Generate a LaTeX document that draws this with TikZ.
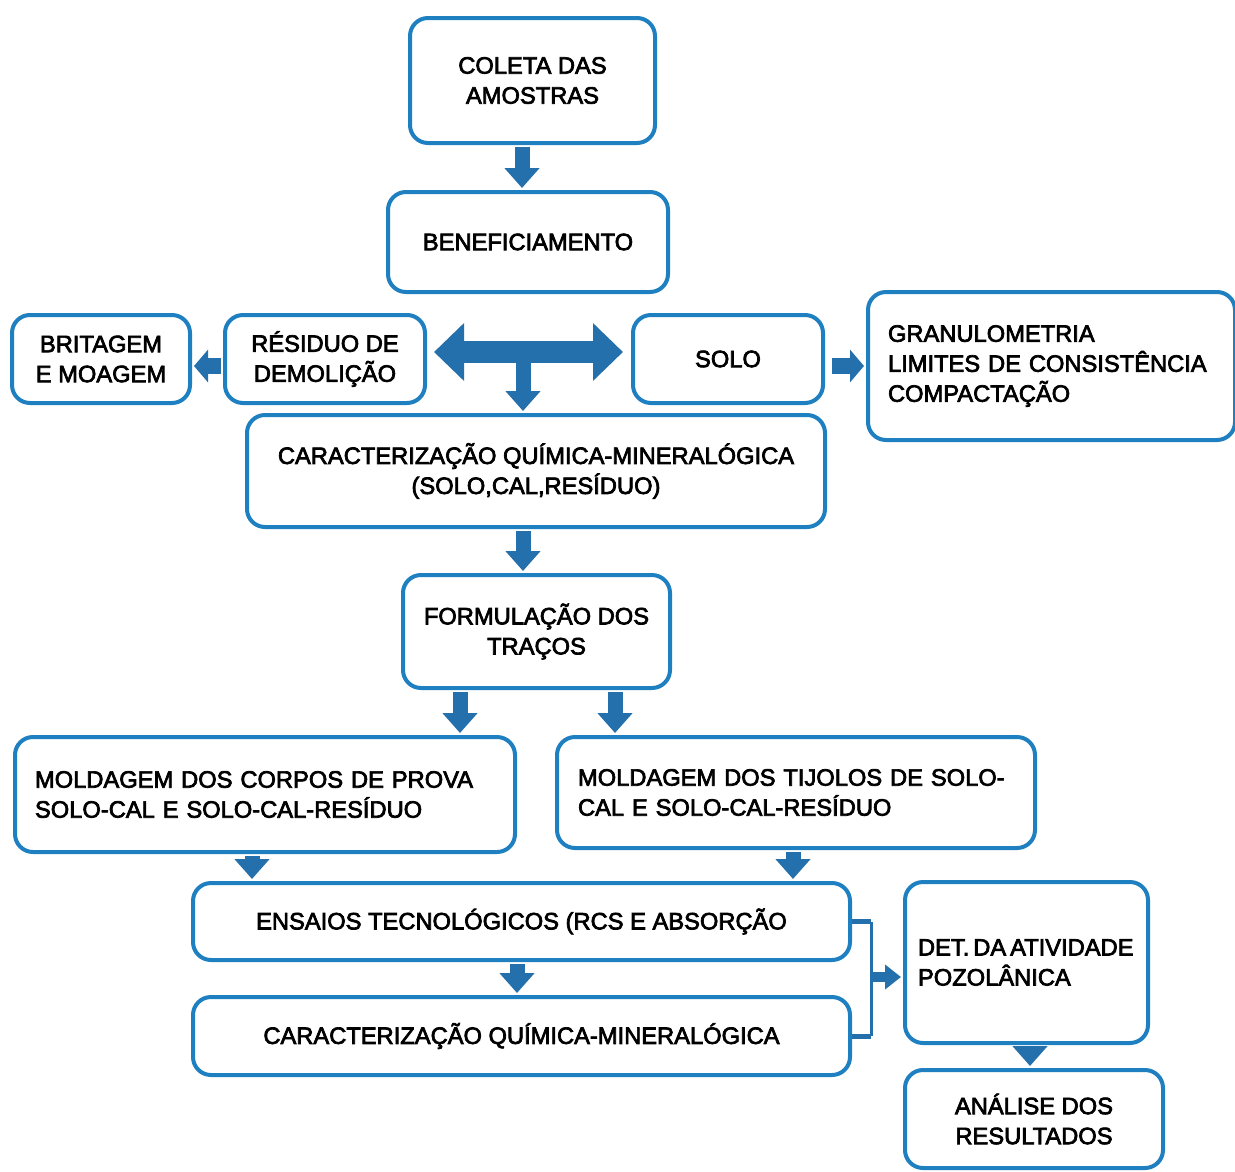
\documentclass[tikz,border=0pt]{standalone}
\usepackage{fontspec}
\setmainfont{Liberation Sans}
\newfontfamily\boxfont[FakeBold=3]{Liberation Sans}
\usetikzlibrary{arrows.meta,calc}
\definecolor{boxblue}{RGB}{30,128,192}
\definecolor{arrblue}{RGB}{35,112,172}
\begin{document}
\begin{tikzpicture}[x=1pt,y=-1pt,
  box/.style={draw=boxblue, line width=4pt, rounded corners=18pt, fill=white,
    align=center, inner sep=0pt, font=\boxfont\fontsize{23.7}{30}\selectfont},
  lbox/.style={box, align=left},
  blk/.style={draw=arrblue, line width=15pt, -{Triangle[width=34pt,length=20pt]},
    shorten <=2pt, shorten >=2pt},
  hblk/.style={draw=arrblue, line width=16pt, -{Triangle[width=32pt,length=14pt]},
    shorten <=2pt, shorten >=2pt},
  dblk/.style={draw=arrblue, line width=22pt,
    {Triangle[width=56pt,length=30pt]}-{Triangle[width=56pt,length=30pt]}},
  brk/.style={draw=arrblue, line width=#1},
  sblk/.style={draw=arrblue, line width=10pt, -{Triangle[width=24pt,length=16pt]},
    shorten >=2pt}
]
\useasboundingbox (0,0) rectangle (1235,1171);
\fill[white] (0,0) rectangle (1235,1171);

% boxes
\node[box, minimum width=245pt, minimum height=125pt] (coleta) at (532.5,80.5) {COLETA DAS\\AMOSTRAS};
\node[box, minimum width=280pt, minimum height=100pt] (benef) at (528,242) {BENEFICIAMENTO};
\node[box, minimum width=178pt, minimum height=88pt] (brit) at (101,359) {BRITAGEM\\E MOAGEM};
\node[box, minimum width=200pt, minimum height=88pt] (resid) at (325,359) {RÉSIDUO DE\\DEMOLIÇÃO};
\node[box, minimum width=190pt, minimum height=88pt] (solo) at (728,359) {SOLO};
\node[lbox, inner xsep=20pt, text width=327pt, minimum width=367pt, minimum height=148pt] (gran) at (1051.5,366)
  {GRANULOMETRIA\\LIMITES DE CONSISTÊNCIA\\COMPACTAÇÃO};
\node[box, minimum width=578pt, minimum height=112pt] (carac1) at (536,471)
  {CARACTERIZAÇÃO QUÍMICA-MINERALÓGICA\\(SOLO,CAL,RESÍDUO)};
\node[box, minimum width=267pt, minimum height=113pt] (formul) at (536.5,631.5) {FORMULAÇÃO DOS\\TRAÇOS};
\node[lbox, inner xsep=20pt, text width=460pt, minimum width=500pt, minimum height=115pt] (mold1) at (265,794.5)
  {MOLDAGEM DOS CORPOS DE PROVA\\SOLO-CAL E SOLO-CAL-RESÍDUO};
\node[lbox, inner xsep=21pt, text width=436pt, minimum width=478pt, minimum height=111pt] (mold2) at (796,792.5)
  {MOLDAGEM DOS TIJOLOS DE SOLO-\\CAL E SOLO-CAL-RESÍDUO};
\node[box, minimum width=657pt, minimum height=77pt] (ensaios) at (521.5,921.5) {ENSAIOS TECNOLÓGICOS (RCS E ABSORÇÃO};
\node[box, minimum width=657pt, minimum height=78pt] (carac2) at (521.5,1036) {CARACTERIZAÇÃO QUÍMICA-MINERALÓGICA};
\node[lbox, inner xsep=13pt, text width=217pt, minimum width=243pt, minimum height=161pt] (det) at (1026.5,962.5)
  {\mbox{DET.\,DA\,ATIVIDADE}\\POZOLÂNICA};
\node[box, minimum width=258pt, minimum height=98pt] (analise) at (1034,1119) {ANÁLISE DOS\\RESULTADOS};

% arrows
\draw[blk] ([xshift=-10.5pt]coleta.south) -- ([xshift=-10.5pt]coleta.south |- benef.north);
\draw[dblk] ([xshift=7pt,yshift=7pt]resid.east) -- ([xshift=-8pt,yshift=7pt]solo.west);
\coordinate (dmid) at (523,355);
\draw[blk, shorten <=0pt] (dmid) -- (dmid |- carac1.north);
\draw[hblk] ([yshift=-7pt]resid.west) -- ([yshift=-7pt]brit.east);
\draw[hblk] ([xshift=5pt,yshift=-7pt]solo.east) -- (gran.west);
\draw[blk] ([xshift=-13pt]carac1.south) -- ([xshift=-13pt]carac1.south |- formul.north);
\draw[blk] ([xshift=-76.5pt]formul.south) -- ([xshift=-76.5pt]formul.south |- mold1.north);
\draw[blk] ([xshift=78.5pt]formul.south) -- ([xshift=78.5pt]formul.south |- mold2.north);
\draw[blk] ([xshift=-13pt]mold1.south) -- ([xshift=-13pt]mold1.south |- ensaios.north);
\draw[blk] ([xshift=-3pt]mold2.south) -- ([xshift=-3pt]mold2.south |- ensaios.north);
\draw[blk] ([xshift=-4.5pt]ensaios.south) -- ([xshift=-4.5pt]ensaios.south |- carac2.north);
\coordinate (bj) at (871,977);
\draw[brk=5pt] (ensaios.east) -- (ensaios.east -| bj);
\draw[brk=5pt] (carac2.east) -- (carac2.east -| bj);
\draw[brk=3pt] (ensaios.east -| bj) -- (carac2.east -| bj);
\draw[sblk] (bj) -- (bj -| det.west);
\draw[blk] ([xshift=3.5pt]det.south) -- ([xshift=3.5pt]det.south |- analise.north);
\end{tikzpicture}
\end{document}
